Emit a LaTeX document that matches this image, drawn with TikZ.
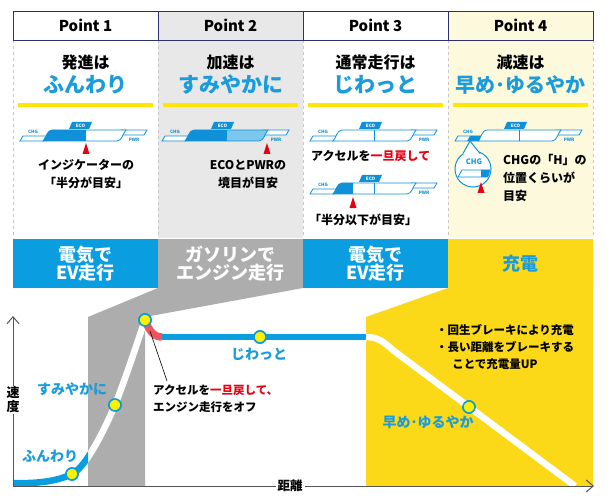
\documentclass[tikz,border=0pt]{standalone}
\usepackage{fontspec}
\setmainfont{Noto Sans CJK JP}
\usetikzlibrary{arrows.meta}
\definecolor{barblue}{HTML}{0A9DE0}
\definecolor{textblue}{HTML}{1A9BDC}
\definecolor{bargray}{HTML}{ADADAD}
\definecolor{baryellow}{HTML}{FBD919}
\definecolor{lineyellow}{HTML}{FFE600}
\definecolor{paleyellow}{HTML}{FDF9DC}
\definecolor{palegray}{HTML}{E8E8E8}
\definecolor{navy}{HTML}{2E3170}
\definecolor{markred}{HTML}{E60012}
\definecolor{curvered}{HTML}{EE5560}
\definecolor{dotyellow}{HTML}{FFF000}
\definecolor{gaugeblue}{HTML}{1090D8}
\definecolor{gaugelight}{HTML}{7CC7EE}
\definecolor{axisgray}{HTML}{555555}

% gauge: origin, dark fill end, light fill end, divider (1/0)
\newcommand{\gauge}[4]{%
	\begin{scope}[shift={#1}]
		\draw[gaugeline,fill=white] (-23,0) -- (-20,-5) -- (3,-5) -- (1,0) -- cycle;
		\draw[gaugeline,fill=white] (78,-11) -- (104,-11) -- (101,-6) -- (76,-6) -- cycle;
		\begin{scope}
			\clip (0,0) .. controls (3,-3) and (4,-11) .. (9,-11) -- (83,-11) .. controls (80,-8) and (79,0) .. (74,0) -- cycle;
			\fill[white] (-5,5) rectangle (90,-15);
			\fill[gaugelight] (#2,5) rectangle (#3,-15);
			\fill[gaugeblue] (-5,5) rectangle (#2,-15);
		\end{scope}
		\draw[gaugeline] (0,0) .. controls (3,-3) and (4,-11) .. (9,-11) -- (83,-11) .. controls (80,-8) and (79,0) .. (74,0) -- cycle;
		\ifnum#4=1 \draw[gaugeline] (41,0) -- (41,-11); \fi
		\fill[gaugeblue] (26,-12) -- (29,-19) -- (49,-19) -- (46,-12) -- cycle;
		\node[tinytext,white] at (37.5,-15.5) {ECO};
		\node[tinytext,gaugeblue] at (-10,-9) {CHG};
		\node[tinytext,gaugeblue] at (91,-1) {PWR};
	\end{scope}}
\newcommand{\marker}[1]{\fill[markred] #1 -- ++(-3.5,11) -- ++(7,0) -- cycle;}

\begin{document}
\begin{tikzpicture}[x=1pt,y=-1pt,
	pointtext/.style={font=\bfseries\fontsize{15}{15}\selectfont},
	headline/.style={font=\bfseries\fontsize{16}{16}\selectfont},
	headblue/.style={font=\bfseries\fontsize{21}{21}\selectfont,textblue},
	bodytext/.style={font=\bfseries\fontsize{12}{18}\selectfont,align=center,inner sep=0pt},
	bartext/.style={font=\bfseries\fontsize{18}{18}\selectfont,align=center,white},
	graphtext/.style={font=\bfseries\fontsize{14}{14}\selectfont,textblue},
	notetext/.style={font=\bfseries\fontsize{11.5}{17}\selectfont,align=left,inner sep=0pt},
	tinytext/.style={font=\bfseries\fontsize{4.5}{4.5}\selectfont,inner sep=0pt},
	gaugeline/.style={draw=gaugeblue,line width=0.8pt},
	yellowline/.style={lineyellow,line width=3.5pt},
	curve/.style={line width=6.5pt},
	dot/.style={circle,fill=dotyellow,draw=barblue,line width=1.6pt,minimum size=12pt,inner sep=0pt},
	axis/.style={axisgray,line width=1pt,-{Straight Barb[length=7pt,width=12pt]}}
	]
	\useasboundingbox (0,0) rectangle (610,497);
	\fill[white] (0,0) rectangle (610,497);
	% columns
	\fill[palegray] (158,11) rectangle (303,238);
	\fill[paleyellow] (448,11) rectangle (593,238);
	\foreach \x in {13,158,303,448,593}
		\draw[gray!45,dashed] (\x,40) -- (\x,238);
	\draw[navy,line width=0.8pt] (13,11) rectangle (593,40);
	\foreach \x in {158,303,448}
		\draw[navy,line width=0.8pt] (\x,11) -- (\x,40);
	\foreach \i in {1,...,4}
		\node[pointtext] (p\i) at ({13+145*(\i-0.5)},25.5) {Point \i};

	\node[headline] (h1) at (85.5,62) {発進は};
	\node[headblue] (k1) at (85.5,85) {ふんわり};
	\node[headline] (h2) at (230.5,62) {加速は};
	\node[headblue] (k2) at (230.5,85) {すみやかに};
	\node[headline] (h3) at (375.5,62) {通常走行は};
	\node[headblue] (k3) at (375.5,85) {じわっと};
	\node[headline] (h4) at (520.5,62) {減速は};
	\node[headblue,font=\bfseries\fontsize{20}{20}\selectfont] (k4) at (520.5,85) {早め･ゆるやか};
	\foreach \x in {13,158,303,448}
		\draw[yellowline] (\x+5,105) -- (\x+140,105);

	% gauges
	\gauge{(43,141)}{43}{43}{0}
	\marker{(86,143)}
	\node[bodytext] (t1) at (86,174) {インジケーターの\\「半分が目安」};
	\gauge{(185,141)}{42}{90}{0}
	\marker{(267,143)}
	\node[bodytext] (t2) at (248,174) {ECOとPWRの\\境目が目安};
	\gauge{(333,141)}{-5}{-5}{1}
	\node[bodytext,anchor=west] (t3) at (311,156) {アクセルを\textcolor{markred}{一旦戻して}};
	\gauge{(333,194)}{20}{20}{1}
	\marker{(353,197)}
	\node[bodytext,anchor=west] (t4) at (309,220) {「半分以下が目安」};
	\gauge{(478,141)}{-5}{-5}{1}
	\fill[gaugeblue] (467,141) -- (470,136) -- (481,136) -- (479,141) -- cycle;

	% magnifier
	\node[circle,draw=gaugeblue,fill=white,line width=1pt,minimum size=36pt,inner sep=0pt] (lens) at (473,169) {};
	\begin{scope}
		\clip (473,169) circle[radius=17];
		\draw[gaugeline,fill=white] (458,177) -- (462,170) -- (500,170) -- (496,177) -- cycle;
		\fill[gaugeblue] (481,177) -- (481,170) -- (500,170) -- (496,177) -- cycle;
	\end{scope}
	\fill[white] (463,154) -- (470,141) -- (480,154) -- cycle;
	\draw[gaugeblue,line width=1pt] (463,153.5) -- (470,141) -- (480,153.5);
	\node[font=\bfseries\fontsize{7.5}{7.5}\selectfont,textblue] (lchg) at (474,162) {CHG};
	\marker{(481,182)}
	\node[bodytext,align=left,anchor=north west] (t5) at (503,154) {CHGの「H」の\\位置くらいが\\目安};

	% bars
	\fill[barblue] (13,239) rectangle (158,288);
	\fill[bargray] (158,239) rectangle (303,288);
	\fill[barblue] (303,239) rectangle (448,288);
	\fill[baryellow] (448,239) rectangle (593,288);
	\node[bartext] (e1) at (85.5,264) {電気で\\EV走行};
	\node[bartext] (e2) at (230.5,264) {ガソリンで\\エンジン走行};
	\node[bartext] (e3) at (375.5,264) {電気で\\EV走行};
	\node[bartext,textblue] (e4) at (520.5,264) {充電};

	% graph
	\fill[bargray] (158,288) -- (303,288) -- (145,317) -- (145,486) -- (88,486) -- (88,317) -- cycle;
	\fill[baryellow] (448,288) -- (593,288) -- (593,486) -- (366,486) -- (366,317) -- cycle;

	\node[dot] (d1) at (72,474) {};
	\node[dot] (d2) at (115,405) {};
	\node[dot] (d3) at (145,320) {};
	\node[dot] (d4) at (260,337) {};
	\node[dot] (d5) at (469,407) {};
	\coordinate (s0) at (13,483);
	\coordinate (r1) at (162,337);
	\coordinate (r2) at (366,337);
	\coordinate (s9) at (575,486);

	\draw[curve,white] (s0) .. controls (45,484) and (62,479) .. (d1.center) .. controls (84,468) and (100,440) .. (d2.center) .. controls (128,372) and (138,340) .. (d3.center);
	\begin{scope}
		\clip (0,440) rectangle (88,497);
		\draw[curve,barblue] (s0) .. controls (45,484) and (62,479) .. (d1.center) .. controls (84,468) and (100,440) .. (d2.center);
	\end{scope}
	\draw[curve,curvered,line width=7.5pt] (d3.center) .. controls (149,331) and (154,337) .. (r1);
	\draw[curve,barblue] (r1) -- (r2);
	\draw[curve,white] (r2) .. controls (378,337) and (384,342) .. (394,351) -- (s9);
	\foreach \n in {d1,d2,d3,d4,d5}
		\node[dot] at (\n) {};

	\coordinate (o) at (13,486);
	\draw[axis] (o) -- (13,316);
	\draw[axis] (o) -- (594,486);
	\node[font=\bfseries\fontsize{12.5}{12.5}\selectfont,fill=white,inner sep=2pt] (xl) at (290,486) {距離};
	\node[font=\bfseries\fontsize{13}{14}\selectfont,fill=white,align=center,inner sep=1pt] (yl) at (13,400) {速\\度};

	\node[graphtext] (g1) at (50,456) {ふんわり};
	\node[graphtext] (g2) at (72,389) {すみやかに};
	\node[graphtext] (g3) at (259,354) {じわっと};
	\node[graphtext] (g4) at (428,422) {早め･ゆるやか};

	\coordinate (a0) at (150,331);
	\coordinate (a1) at (167,381);
	\draw[black,line width=0.6pt] (a0) -- (a1);
	\node[notetext,anchor=north west] (n1) at (153,385) {アクセルを\textcolor{markred}{一旦戻して、}\\エンジン走行をオフ};
	\node[notetext,anchor=north west] (n2) at (436,324) {・回生ブレーキにより充電\\・長い距離をブレーキする\\\hspace*{1.4em}ことで充電量UP};
\end{tikzpicture}
\end{document}
